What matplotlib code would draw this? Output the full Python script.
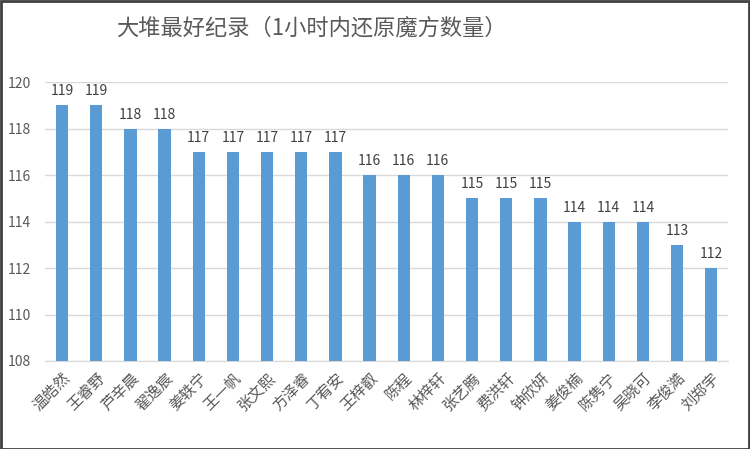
import matplotlib
matplotlib.use("Agg")
import matplotlib.pyplot as plt
from matplotlib.patches import Rectangle

plt.rcParams['font.family'] = ['Noto Sans CJK SC', 'DejaVu Sans']

names = ['温皓然', '王睿野', '芦辛晨', '翟逸宸', '姜轶宁', '王一帆', '张文熙', '方泽睿', '丁宥安', '王梓叡',
         '陈程', '林梓轩', '张艺腾', '费洪轩', '钟欣妍', '姜俊楠', '陈隽宁', '吴晓可', '李俊澔', '刘郑宇']
scores = [119, 119, 118, 118, 117, 117, 117, 117, 117, 116,
          116, 116, 115, 115, 115, 114, 114, 114, 113, 112]
yticks = [108, 110, 112, 114, 116, 118, 120]

txt = '#595959'
fig = plt.figure(figsize=(7.5, 4.49), dpi=100)
ax = fig.add_axes([0.06, 0.196, 0.911, 0.621])

x = range(len(names))
ax.bar(x, scores, width=0.36, color='#5B9BD5', zorder=3)
for i, v in zip(x, scores):
    ax.text(i, v + 0.3, str(v), ha='center', va='bottom', fontsize=10, color='#404040')

ax.set_xlim(-0.5, len(names) - 0.5)
ax.set_ylim(108, 120)
ax.set_yticks(yticks)
ax.set_yticklabels([str(t) for t in yticks], fontsize=10, color=txt)
ax.set_xticks(list(x))
ax.set_xticklabels(names, rotation=45, ha='right', rotation_mode='anchor', fontsize=11, color=txt)
ax.grid(axis='y', color='#d9d9d9', linewidth=1, zorder=0)
for s in ['top', 'right', 'left']:
    ax.spines[s].set_visible(False)
ax.spines['bottom'].set_color('#d9d9d9')
ax.tick_params(length=0, pad=6)
ax.tick_params(axis='y', pad=10)

fig.text(0.415, 0.938, '大堆最好纪录（1小时内还原魔方数量）', ha='center', va='center',
         fontsize=16, color=txt)

fig.patches.append(Rectangle((0.001, 0.001), 0.997, 0.997, transform=fig.transFigure,
                             fill=False, edgecolor='#404040', linewidth=2))

fig.savefig('out.png', dpi=100)
